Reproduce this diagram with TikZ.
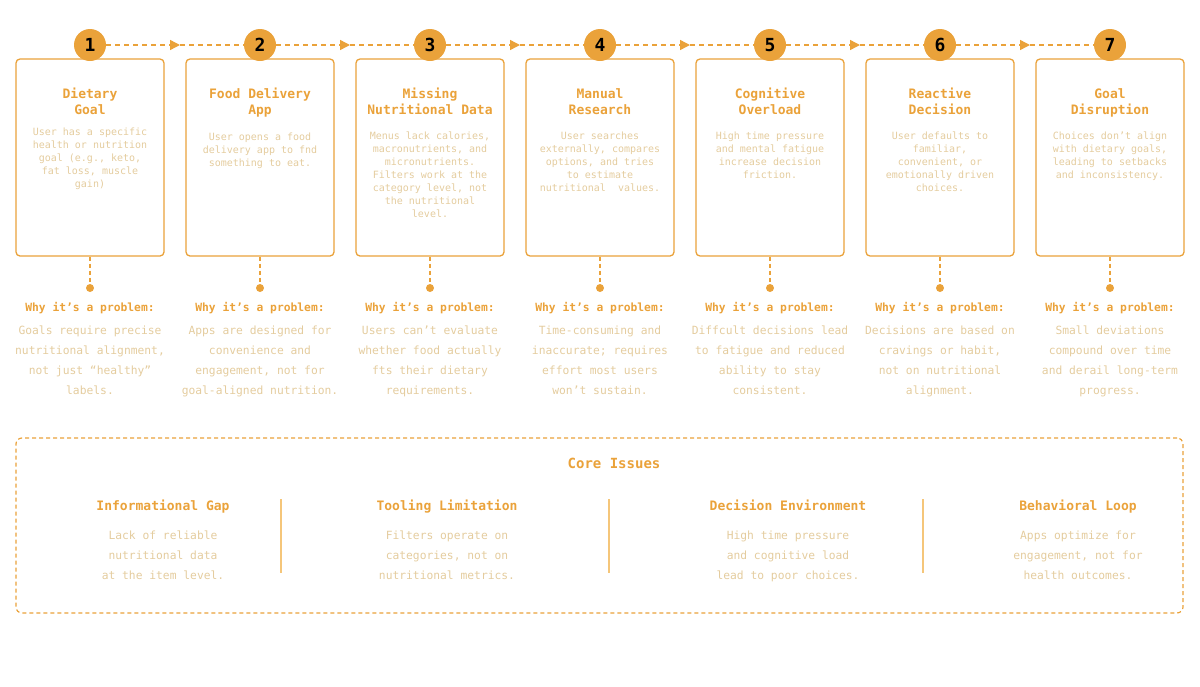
\documentclass[tikz,border=0pt]{standalone}
\usepackage{fontspec}
\setmainfont{DejaVu Sans Mono}
\usetikzlibrary{arrows.meta, positioning}

\definecolor{stepor}{RGB}{234,162,58}
\definecolor{softor}{RGB}{245,198,122}
\definecolor{sand}{RGB}{228,204,158}

\tikzset{
  stepbox/.style={draw=stepor, line width=1.3pt, rounded corners=4pt, minimum width=148pt, minimum height=197pt, inner sep=0pt},
  numdot/.style={circle, fill=stepor, minimum size=32pt, inner sep=0pt, font=\fontsize{18}{18}\selectfont\bfseries},
  steptitle/.style={text=stepor, align=center, font=\fontsize{13}{16}\selectfont\bfseries},
  stepbody/.style={text=sand, align=center, font=\fontsize{10}{13}\selectfont},
  flowline/.style={draw=stepor, line width=1.4pt, dash pattern=on 5pt off 4pt},
  stemline/.style={draw=stepor, line width=1.4pt, dash pattern=on 4pt off 3pt},
  stemdot/.style={circle, fill=stepor, minimum size=8pt, inner sep=0pt},
  whyhead/.style={text=stepor, font=\fontsize{11.3}{14}\selectfont\bfseries},
  whybody/.style={text=sand, align=center, font=\fontsize{11.3}{20}\selectfont},
  coreframe/.style={draw=stepor, line width=1.2pt, dash pattern=on 4pt off 3pt, rounded corners=6pt, minimum width=1167pt, minimum height=175pt},
  issuehead/.style={text=stepor, font=\fontsize{13}{16}\selectfont\bfseries},
  issuebody/.style={text=sand, align=center, font=\fontsize{11.3}{20}\selectfont},
  sepline/.style={draw=softor, line width=1.5pt},
}

\begin{document}
\begin{tikzpicture}[x=1pt, y=-1pt]
  \useasboundingbox (0,0) rectangle (1200,686);

  % steps
  \node[stepbox] (b1) at (90,157.5) {};
  \node[stepbox] (b2) at (260,157.5) {};
  \node[stepbox] (b3) at (430,157.5) {};
  \node[stepbox] (b4) at (600,157.5) {};
  \node[stepbox] (b5) at (770,157.5) {};
  \node[stepbox] (b6) at (940,157.5) {};
  \node[stepbox] (b7) at (1110,157.5) {};

  \node[numdot] (n1) at (90,45) {1};
  \node[numdot] (n2) at (260,45) {2};
  \node[numdot] (n3) at (430,45) {3};
  \node[numdot] (n4) at (600,45) {4};
  \node[numdot] (n5) at (770,45) {5};
  \node[numdot] (n6) at (940,45) {6};
  \node[numdot] (n7) at (1110,45) {7};

  \coordinate (a1) at (180,45);
  \coordinate (a2) at (350,45);
  \coordinate (a3) at (520,45);
  \coordinate (a4) at (690,45);
  \coordinate (a5) at (860,45);
  \coordinate (a6) at (1030,45);

  \draw[flowline, -{Triangle[length=10pt, width=10pt]}] (n1) -- (a1);
  \draw[flowline] (a1) -- (n2);
  \draw[flowline, -{Triangle[length=10pt, width=10pt]}] (n2) -- (a2);
  \draw[flowline] (a2) -- (n3);
  \draw[flowline, -{Triangle[length=10pt, width=10pt]}] (n3) -- (a3);
  \draw[flowline] (a3) -- (n4);
  \draw[flowline, -{Triangle[length=10pt, width=10pt]}] (n4) -- (a4);
  \draw[flowline] (a4) -- (n5);
  \draw[flowline, -{Triangle[length=10pt, width=10pt]}] (n5) -- (a5);
  \draw[flowline] (a5) -- (n6);
  \draw[flowline, -{Triangle[length=10pt, width=10pt]}] (n6) -- (a6);
  \draw[flowline] (a6) -- (n7);

  \node[steptitle] (t1) at (90,103) {\strut Dietary\\Goal\strut};
  \node[steptitle] (t2) at (260,103) {\strut Food Delivery\\App\strut};
  \node[steptitle] (t3) at (430,103) {\strut Missing\\Nutritional Data\strut};
  \node[steptitle] (t4) at (600,103) {\strut Manual\\Research\strut};
  \node[steptitle] (t5) at (770,103) {\strut Cognitive\\Overload\strut};
  \node[steptitle] (t6) at (940,103) {\strut Reactive\\Decision\strut};
  \node[steptitle] (t7) at (1110,103) {\strut Goal\\Disruption\strut};

  \node[stepbody] (d1) at (90,158.5) {\strut User has a specific\\health or nutrition\\goal (e.g., keto,\\fat loss, muscle\\gain)\strut};
  \node[stepbody] (d2) at (260,150.5) {\strut User opens a food\\delivery app to fnd\\something to eat.\strut};
  \node[stepbody] (d3) at (430,176) {\strut Menus lack calories,\\macronutrients, and\\micronutrients.\\Filters work at the\\category level, not\\the nutritional\\level.\strut};
  \node[stepbody] (d4) at (600,163) {\strut User searches\\externally, compares\\options, and tries\\to estimate\\nutritional\ \ values.\strut};
  \node[stepbody] (d5) at (770,156.5) {\strut High time pressure\\and mental fatigue\\increase decision\\friction.\strut};
  \node[stepbody] (d6) at (940,163) {\strut User defaults to\\familiar,\\convenient, or\\emotionally driven\\choices.\strut};
  \node[stepbody] (d7) at (1110,156.5) {\strut Choices don’t align\\with dietary goals,\\leading to setbacks\\and inconsistency.\strut};

  % why it's a problem
  \node[stemdot] (p1) at (90,288) {};
  \node[stemdot] (p2) at (260,288) {};
  \node[stemdot] (p3) at (430,288) {};
  \node[stemdot] (p4) at (600,288) {};
  \node[stemdot] (p5) at (770,288) {};
  \node[stemdot] (p6) at (940,288) {};
  \node[stemdot] (p7) at (1110,288) {};

  \draw[stemline] (b1) -- (p1);
  \draw[stemline] (b2) -- (p2);
  \draw[stemline] (b3) -- (p3);
  \draw[stemline] (b4) -- (p4);
  \draw[stemline] (b5) -- (p5);
  \draw[stemline] (b6) -- (p6);
  \draw[stemline] (b7) -- (p7);

  \node[whyhead] (w1) at (90,309) {\strut Why it’s a problem:};
  \node[whyhead] (w2) at (260,309) {\strut Why it’s a problem:};
  \node[whyhead] (w3) at (430,309) {\strut Why it’s a problem:};
  \node[whyhead] (w4) at (600,309) {\strut Why it’s a problem:};
  \node[whyhead] (w5) at (770,309) {\strut Why it’s a problem:};
  \node[whyhead] (w6) at (940,309) {\strut Why it’s a problem:};
  \node[whyhead] (w7) at (1110,309) {\strut Why it’s a problem:};

  \node[whybody] (r1) at (90,360) {\strut Goals require precise\\nutritional alignment,\\not just “healthy”\\labels.\strut};
  \node[whybody] (r2) at (260,360) {\strut Apps are designed for\\convenience and\\engagement, not for\\goal-aligned nutrition.\strut};
  \node[whybody] (r3) at (430,360) {\strut Users can’t evaluate\\whether food actually\\fts their dietary\\requirements.\strut};
  \node[whybody] (r4) at (600,360) {\strut Time-consuming and\\inaccurate; requires\\effort most users\\won’t sustain.\strut};
  \node[whybody] (r5) at (770,360) {\strut Diffcult decisions lead\\to fatigue and reduced\\ability to stay\\consistent.\strut};
  \node[whybody] (r6) at (940,360) {\strut Decisions are based on\\cravings or habit,\\not on nutritional\\alignment.\strut};
  \node[whybody] (r7) at (1110,360) {\strut Small deviations\\compound over time\\and derail long-term\\progress.\strut};

  % core issues
  \node[coreframe] (core) at (599.5,525.5) {};
  \node[issuehead, font=\fontsize{14}{16}\selectfont\bfseries] (corehead) at (614,465) {\strut Core Issues};

  \node[issuehead] (i1) at (163,507) {\strut Informational Gap};
  \node[issuehead] (i2) at (447,507) {\strut Tooling Limitation};
  \node[issuehead] (i3) at (788,507) {\strut Decision Environment};
  \node[issuehead] (i4) at (1078,507) {\strut Behavioral Loop};

  \node[issuebody] (j1) at (163,555) {\strut Lack of reliable\\nutritional data\\at the item level.\strut};
  \node[issuebody] (j2) at (447,555) {\strut Filters operate on\\categories, not on\\nutritional metrics.\strut};
  \node[issuebody] (j3) at (788,555) {\strut High time pressure\\and cognitive load\\lead to poor choices.\strut};
  \node[issuebody] (j4) at (1078,555) {\strut Apps optimize for\\engagement, not for\\health outcomes.\strut};

  \draw[sepline] (281,499) -- (281,573);
  \draw[sepline] (609,499) -- (609,573);
  \draw[sepline] (923,499) -- (923,573);
\end{tikzpicture}
\end{document}
